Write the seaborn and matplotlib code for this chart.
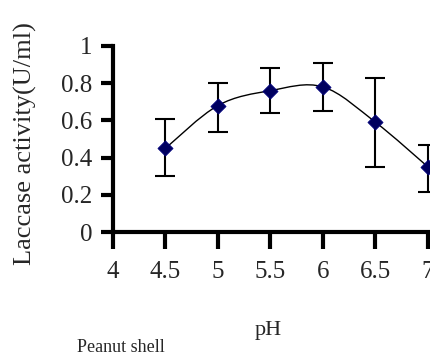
import matplotlib
matplotlib.use('Agg')
import matplotlib.pyplot as plt
from matplotlib.path import Path
from matplotlib.patches import PathPatch
import numpy as np
import pandas as pd
import seaborn as sns

# data
ph = [4.5, 5.0, 5.5, 6.0, 6.5, 7.0]
activity = [0.45, 0.68, 0.76, 0.78, 0.59, 0.35]
err_hi = [0.61, 0.80, 0.88, 0.91, 0.83, 0.47]
err_lo = [0.30, 0.54, 0.64, 0.65, 0.35, 0.215]
x_ticks = [4, 4.5, 5, 5.5, 6, 6.5, 7]
x_labels = ['4', '4.5', '5', '5.5', '6', '6.5', '7']
y_ticks = [0, 0.2, 0.4, 0.6, 0.8, 1]
y_labels = ['0', '0.2', '0.4', '0.6', '0.8', '1']

df = pd.DataFrame({'pH': ph, 'activity': activity})

sns.set_style("ticks")
plt.rcParams['font.family'] = ['Liberation Serif', 'DejaVu Serif']

fig = plt.figure(figsize=(4.31, 3.62), dpi=100)
ax = fig.add_axes([0.262, 0.359, 0.731, 0.514])

# smoothed line (Catmull-Rom style bezier through the data points)
pts = np.column_stack([ph, activity])
ext = np.vstack([pts[0], pts, pts[-1]])
verts = [tuple(pts[0])]
codes = [Path.MOVETO]
for i in range(len(pts) - 1):
    p0, p1, p2, p3 = ext[i], ext[i + 1], ext[i + 2], ext[i + 3]
    c1 = p1 + (p2 - p0) / 6
    c2 = p2 - (p3 - p1) / 6
    verts += [tuple(c1), tuple(c2), tuple(p2)]
    codes += [Path.CURVE4] * 3
ax.add_patch(PathPatch(Path(verts, codes), facecolor='none', edgecolor='black',
                       lw=1.0, clip_on=False, zorder=2))

yerr = [np.array(activity) - np.array(err_lo), np.array(err_hi) - np.array(activity)]
ax.errorbar(ph, activity, yerr=yerr, fmt='none', ecolor='black', elinewidth=1.5,
            capsize=7, capthick=1.5, clip_on=False, zorder=3)

sns.scatterplot(data=df, x='pH', y='activity', ax=ax, marker='D', s=60,
                color='#000060', edgecolor='#000080', linewidth=0.5,
                clip_on=False, zorder=4)

ax.set_xlim(4, 7)
ax.set_ylim(0, 1)
ax.set_xticks(x_ticks)
ax.set_xticklabels(x_labels)
ax.set_yticks(y_ticks)
ax.set_yticklabels(y_labels)

for s in ['top', 'right']:
    ax.spines[s].set_visible(False)
for s in ['left', 'bottom']:
    ax.spines[s].set_linewidth(3)
    ax.spines[s].set_color('black')

ax.tick_params(axis='x', bottom=True, direction='out', length=12, width=3,
               pad=9, labelsize=18, color='black')
ax.tick_params(axis='y', left=True, direction='out', length=9, width=3,
               pad=6, labelsize=18, color='black')

ax.set_xlabel('')
ax.set_ylabel('')
fig.text(0.058, 0.268, 'Laccase activity(U/ml)', rotation=90, fontsize=19,
         ha='center', va='bottom')
fig.text(0.622, 0.088, 'pH', fontsize=16, ha='center', va='center')
fig.text(0.178, 0.04, 'Peanut shell', fontsize=13, ha='left', va='center')

fig.savefig('out.png', dpi=100)
